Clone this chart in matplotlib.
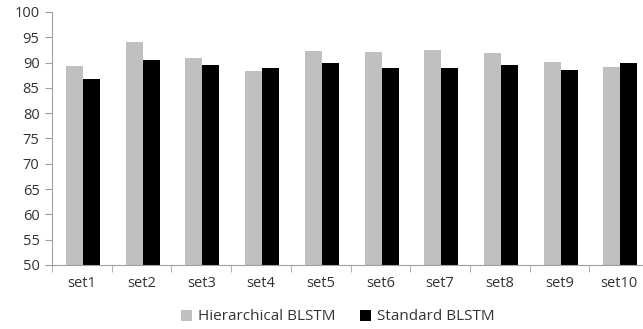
import numpy as np
from matplotlib import pyplot as plt

sets = ['set1', 'set2', 'set3', 'set4', 'set5', 'set6', 'set7', 'set8', 'set9', 'set10']
hierarchical = [89.3, 94.0, 91.0, 88.4, 92.3, 92.0, 92.5, 91.8, 90.1, 89.2]
standard = [86.8, 90.6, 89.5, 88.9, 89.9, 89.0, 88.9, 89.5, 88.5, 89.9]

plt.rcParams['font.family'] = ['Open Sans', 'DejaVu Sans']

fig = plt.figure(figsize=(6.43, 3.29), dpi=100)
ax = fig.add_axes([52 / 643, 64 / 329, 597 / 643, 253 / 329])

x = np.arange(len(sets))
w = 0.285
ax.bar(x - w / 2 + 0.02, hierarchical, w, color='#bfbfbf', label='Hierarchical BLSTM')
ax.bar(x + w / 2 + 0.02, standard, w, color='black', label='Standard BLSTM')

ax.set_ylim(50, 100)
ax.set_yticks(range(50, 101, 5))
ax.set_xlim(-0.5, len(sets) - 0.5)
ax.set_xticks(x)
ax.set_xticklabels(sets)
ax.set_xticks(np.arange(-0.5, len(sets)), minor=True)

for s in ['top', 'right']:
    ax.spines[s].set_visible(False)
for s in ['left', 'bottom']:
    ax.spines[s].set_color('#a0a0a0')

ax.tick_params(axis='y', length=5, color='#a0a0a0', labelsize=10.5, labelcolor='#333333', pad=4)
ax.tick_params(axis='x', which='major', length=0, pad=8, labelsize=10.5, labelcolor='#333333')
ax.tick_params(axis='x', which='minor', length=5, color='#a0a0a0')

fig.legend(loc='center', bbox_to_anchor=(338 / 643, 12 / 329), ncol=2, frameon=False,
           fontsize=11, handlelength=0.7, handleheight=0.7, columnspacing=1.6,
           handletextpad=0.4, labelcolor='#333333')

fig.savefig('out.png', dpi=100)
